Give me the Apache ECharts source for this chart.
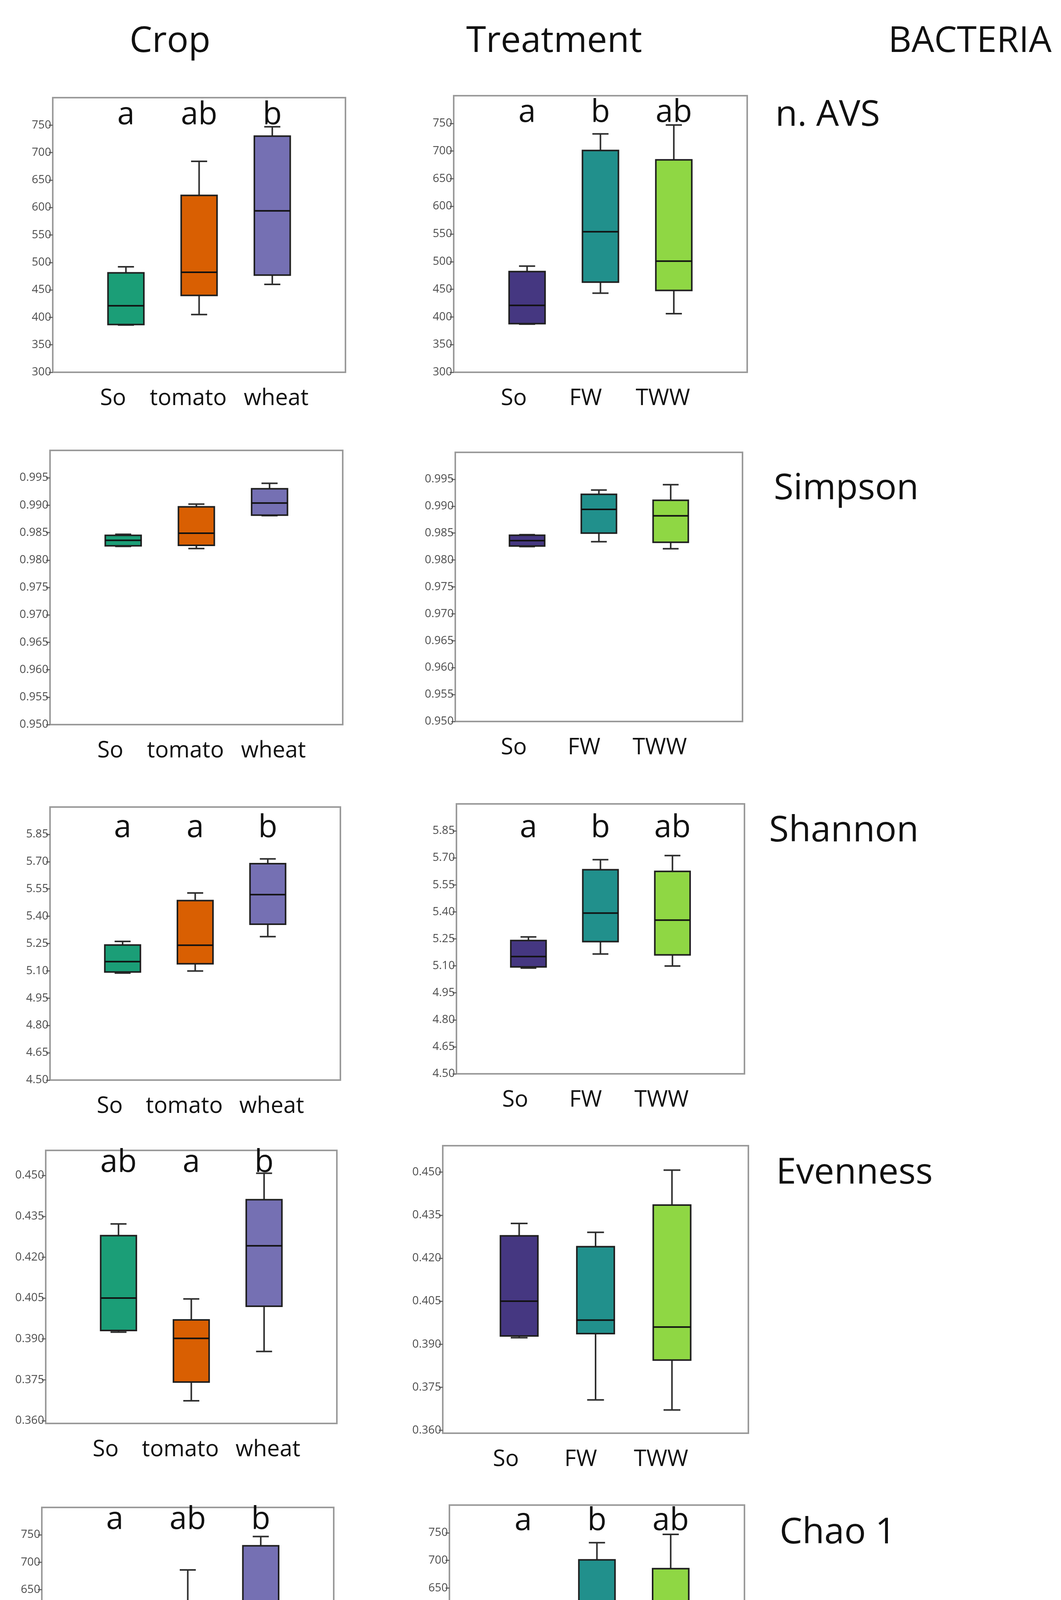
<!DOCTYPE html>
<html>
<head>
<meta charset="utf-8">
<title>Bacteria diversity boxplots</title>
<script src="https://cdn.jsdelivr.net/npm/echarts@6/dist/echarts.min.js"></script>
<style>
  html, body { margin: 0; padding: 0; background: #fff; }
  #chart { width: 2715px; height: 4678px; }
</style>
</head>
<body>
<div id="chart"></div>
<script>
// groups on the x axis
const cropGroups = ['So', 'tomato', 'wheat'];
const treatGroups = ['So', 'FW', 'TWW'];

// each box: [lower whisker, Q1, median, Q3, upper whisker]
const avsCrop = [[386, 387, 421, 481, 492], [405, 440, 482, 622, 684], [460, 477, 594, 730, 747]];
const avsTreat = [[387, 388, 421, 482, 492], [443, 463, 554, 701, 731], [406, 448, 501, 684, 747]];
const simpsonCrop = [[0.9825, 0.9826, 0.9836, 0.9845, 0.9847], [0.9821, 0.9827, 0.9849, 0.9897, 0.9902], [0.9881, 0.9882, 0.9904, 0.9930, 0.9940]];
const simpsonTreat = [[0.9825, 0.9826, 0.9836, 0.9846, 0.9847], [0.9834, 0.9850, 0.9894, 0.9922, 0.9930], [0.9821, 0.9833, 0.9882, 0.9911, 0.9940]];
const shannonCrop = [[5.088, 5.094, 5.151, 5.242, 5.262], [5.099, 5.139, 5.241, 5.486, 5.528], [5.288, 5.356, 5.519, 5.689, 5.715]];
const shannonTreat = [[5.088, 5.094, 5.152, 5.241, 5.261], [5.166, 5.235, 5.393, 5.634, 5.690], [5.099, 5.161, 5.354, 5.625, 5.713]];
const evennessCrop = [[0.3925, 0.3931, 0.4050, 0.4279, 0.4322], [0.3673, 0.3742, 0.3902, 0.3970, 0.4047], [0.3854, 0.4020, 0.4242, 0.4411, 0.4508]];
const evennessTreat = [[0.3923, 0.3929, 0.4050, 0.4278, 0.4321], [0.3706, 0.3937, 0.3984, 0.4240, 0.4290], [0.3671, 0.3845, 0.3960, 0.4385, 0.4507]];
const chaoCrop = [[387, 388, 421, 481, 491], [405, 441, 483, 623, 686], [460, 478, 594, 730, 747]];
const chaoTreat = [[387, 388, 421, 481, 491], [443, 462, 555, 701, 732], [405, 447, 502, 685, 747]];

// significance letters
const avsCropLetters = ['a', 'ab', 'b'];
const avsTreatLetters = ['a', 'b', 'ab'];
const shannonCropLetters = ['a', 'a', 'b'];
const shannonTreatLetters = ['a', 'b', 'ab'];
const evennessCropLetters = ['ab', 'a', 'b'];
const chaoCropLetters = ['a', 'ab', 'b'];
const chaoTreatLetters = ['a', 'b', 'ab'];

// y tick labels
const countTicks = [300, 350, 400, 450, 500, 550, 600, 650, 700, 750];
const simpsonTicks = [0.950, 0.955, 0.960, 0.965, 0.970, 0.975, 0.980, 0.985, 0.990, 0.995];
const shannonTicks = [4.50, 4.65, 4.80, 4.95, 5.10, 5.25, 5.40, 5.55, 5.70, 5.85];
const evennessTicks = [0.360, 0.375, 0.390, 0.405, 0.420, 0.435, 0.450];

const columnTitles = ['Crop', 'Treatment', 'BACTERIA'];
const rowTitles = ['n. AVS', 'Simpson', 'Shannon', 'Evenness', 'Chao 1'];

const cropColors = ['#1b9e77', '#d95f02', '#7570b3'];
const treatColors = ['#453781', '#21908c', '#8fd744'];

const FONT = '"Open Sans", "Noto Sans", sans-serif';

// horizontal nudge of each x label relative to its box (px)
const cropShift = [-33, -28, 10];
const treatShift = [-34, -38, -28];

// panel layout (px) and axis settings
const panels = [
  { box: [135, 250, 749, 703], groups: cropGroups, shift: cropShift, values: avsCrop, colors: cropColors, letters: avsCropLetters, drop: 45, range: [300, 800], ticks: countTicks, dec: 0 },
  { box: [1161, 245, 751, 708], groups: treatGroups, shift: treatShift, values: avsTreat, colors: treatColors, letters: avsTreatLetters, drop: 44, range: [300, 800], ticks: countTicks, dec: 0 },
  { box: [128, 1153, 749, 702], groups: cropGroups, shift: cropShift, values: simpsonCrop, colors: cropColors, letters: null, drop: 0, range: [0.95, 1.0], ticks: simpsonTicks, dec: 3 },
  { box: [1165, 1158, 735, 689], groups: treatGroups, shift: treatShift, values: simpsonTreat, colors: treatColors, letters: null, drop: 0, range: [0.95, 1.0], ticks: simpsonTicks, dec: 3 },
  { box: [128, 2066, 743, 699], groups: cropGroups, shift: cropShift, values: shannonCrop, colors: cropColors, letters: shannonCropLetters, drop: 54, range: [4.5, 6.0], ticks: shannonTicks, dec: 2 },
  { box: [1168, 2058, 737, 691], groups: treatGroups, shift: treatShift, values: shannonTreat, colors: treatColors, letters: shannonTreatLetters, drop: 62, range: [4.5, 6.0], ticks: shannonTicks, dec: 2 },
  { box: [117, 2945, 745, 699], groups: cropGroups, shift: cropShift, values: evennessCrop, colors: cropColors, letters: evennessCropLetters, drop: 32, range: [0.359, 0.4592], ticks: evennessTicks, dec: 3 },
  { box: [1133, 2933, 782, 736], groups: treatGroups, shift: treatShift, values: evennessTreat, colors: treatColors, letters: null, drop: 0, range: [0.359, 0.4592], ticks: evennessTicks, dec: 3 },
  { box: [107, 3859, 747, 702], groups: cropGroups, shift: cropShift, values: chaoCrop, colors: cropColors, letters: chaoCropLetters, drop: 32, range: [300, 800], ticks: countTicks, dec: 0 },
  { box: [1150, 3853, 755, 708], groups: treatGroups, shift: treatShift, values: chaoTreat, colors: treatColors, letters: chaoTreatLetters, drop: 41, range: [300, 800], ticks: countTicks, dec: 0 }
];

function boxRenderer(colors, letters, drop) {
  return function (params, api) {
    const i = api.value(0);
    const k = params.dataIndex;
    const lo = api.coord([i, api.value(1)]);
    const q1 = api.coord([i, api.value(2)]);
    const md = api.coord([i, api.value(3)]);
    const q3 = api.coord([i, api.value(4)]);
    const hi = api.coord([i, api.value(5)]);
    const step = api.size([1, 0])[0];
    const half = step * 0.245;
    const cap = step * 0.11;
    const x = md[0];
    const whisker = { stroke: '#2e2e2e', lineWidth: 4 };
    const children = [
      { type: 'line', shape: { x1: x, y1: hi[1], x2: x, y2: q3[1] }, style: whisker },
      { type: 'line', shape: { x1: x - cap, y1: hi[1], x2: x + cap, y2: hi[1] }, style: whisker },
      { type: 'line', shape: { x1: x, y1: lo[1], x2: x, y2: q1[1] }, style: whisker },
      { type: 'line', shape: { x1: x - cap, y1: lo[1], x2: x + cap, y2: lo[1] }, style: whisker },
      { type: 'rect', shape: { x: x - half, y: q3[1], width: half * 2, height: q1[1] - q3[1] },
        style: { fill: colors[k], stroke: '#1f1f1f', lineWidth: 4 } },
      { type: 'line', shape: { x1: x - half, y1: md[1], x2: x + half, y2: md[1] },
        style: { stroke: '#111', lineWidth: 4 } }
    ];
    if (letters) {
      children.push({
        type: 'text',
        style: {
          text: letters[k], x: x, y: params.coordSys.y + drop,
          align: 'center', verticalAlign: 'middle',
          fontSize: 80, fontFamily: FONT, fill: '#111'
        }
      });
    }
    return { type: 'group', children: children };
  };
}

// rich styles that push each x label sideways by padding one side
function labelRich(shift) {
  const rich = {};
  shift.forEach(function (dx, k) {
    rich['g' + (k + 1)] = {
      fontSize: 58, lineHeight: 58, color: '#111', fontFamily: FONT,
      padding: dx < 0 ? [0, -2 * dx, 0, 0] : [0, 0, 0, 2 * dx]
    };
  });
  return rich;
}

const grids = [], xAxes = [], yAxes = [], series = [];
panels.forEach(function (p, n) {
  grids.push({
    left: p.box[0], top: p.box[1], width: p.box[2], height: p.box[3],
    show: true, borderColor: '#9a9a9a', borderWidth: 4, backgroundColor: 'transparent'
  });
  xAxes.push({
    type: 'category', gridIndex: n, boundaryGap: false,
    data: [' ', ...p.groups, '  '],
    axisLine: { show: false }, axisTick: { show: false }, splitLine: { show: false },
    axisLabel: {
      interval: 0, margin: 38, fontSize: 58, lineHeight: 58, color: '#111', fontFamily: FONT,
      formatter: function (v, idx) { return (idx >= 1 && idx <= 3) ? '{g' + idx + '|' + v + '}' : ''; },
      rich: labelRich(p.shift)
    }
  });
  yAxes.push({
    type: 'value', gridIndex: n, min: p.range[0], max: p.range[1],
    axisLine: { show: false }, splitLine: { show: false },
    axisTick: { show: true, length: 10, customValues: p.ticks, lineStyle: { color: '#555', width: 2.5 } },
    axisLabel: {
      customValues: p.ticks, margin: 4, fontSize: 29, color: '#4d4d4d', fontFamily: FONT,
      formatter: function (v) { return v.toFixed(p.dec); }
    }
  });
  series.push({
    type: 'custom', xAxisIndex: n, yAxisIndex: n, clip: false,
    renderItem: boxRenderer(p.colors, p.letters, p.drop),
    encode: { x: 0, y: [1, 2, 3, 4, 5] },
    data: p.values.map(function (v, k) { return [k + 1].concat(v); })
  });
});

const titleStyle = { fontSize: 92, fontFamily: FONT, fill: '#111', verticalAlign: 'middle' };
const titleX = [435, 1418, 2482];
const rowTitleX = [1984, 1980, 1968, 1986, 1995];
const rowTitleY = [296, 1252, 2128, 3004, 3925];
const graphic = [];
columnTitles.forEach(function (t, i) {
  graphic.push({ type: 'text', x: titleX[i], y: 107, style: Object.assign({ text: t, align: 'center' }, titleStyle) });
});
rowTitles.forEach(function (t, i) {
  graphic.push({ type: 'text', x: rowTitleX[i], y: rowTitleY[i], style: Object.assign({ text: t, align: 'left' }, titleStyle) });
});

const chart = echarts.init(document.getElementById('chart'));
chart.setOption({
  backgroundColor: '#ffffff',
  animation: false,
  textStyle: { fontFamily: FONT },
  grid: grids,
  xAxis: xAxes,
  yAxis: yAxes,
  series: series,
  graphic: graphic
});
</script>
</body>
</html>
